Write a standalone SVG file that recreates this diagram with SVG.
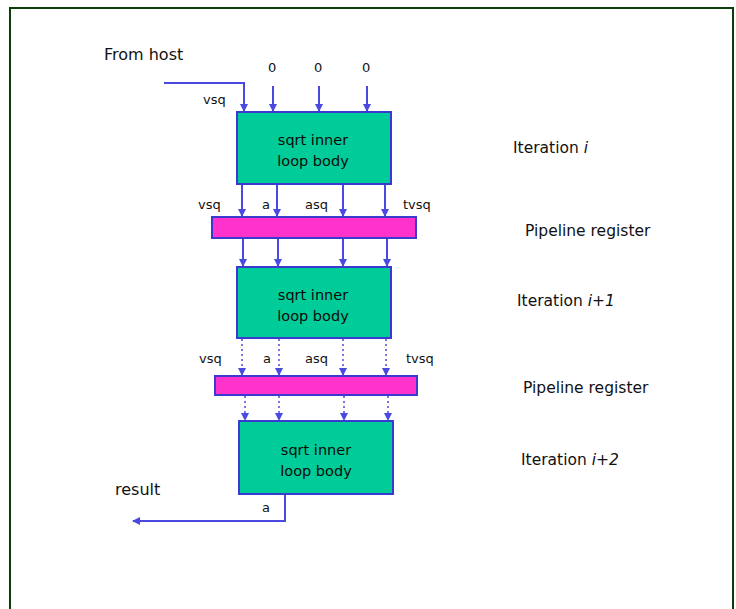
<svg xmlns="http://www.w3.org/2000/svg" width="736" height="609" viewBox="0 0 736 609">
  <style>
    .lbl { font-family: "DejaVu Sans", "Liberation Sans", sans-serif; font-size: 13px; fill: #111; }
    .big { font-size: 16px; }
    .side { font-family: "DejaVu Sans", "Liberation Sans", sans-serif; font-size: 15.5px; fill: #111; }
    .body { fill: #00cc99; stroke: #3a3ad0; stroke-width: 2; }
    .reg { fill: #ff33cc; stroke: #3a3ad0; stroke-width: 2; }
    .wire { fill: none; stroke: #4a4ae0; stroke-width: 2; }
    .dot { fill: none; stroke: #4a4ae0; stroke-width: 1.5; stroke-dasharray: 2 3; }
    .btxt { font-family: "DejaVu Sans", "Liberation Sans", sans-serif; font-size: 14.5px; fill: #0a0a0a; text-anchor: middle; }
  </style>
  <defs>
    <marker id="ah" markerWidth="8" markerHeight="8" refX="7" refY="4" orient="auto" markerUnits="userSpaceOnUse">
      <path d="M0,0 L8,4 L0,8 Z" fill="#4a4ae0"/>
    </marker>
  </defs>

  <rect x="0" y="0" width="736" height="609" fill="#ffffff"/>
  <!-- outer frame -->
  <path d="M10,620 L10,8 L733,8 L733,620" fill="none" stroke="#0d3d0d" stroke-width="2"/>

  <!-- connectors -->
  <g id="connectors">
    <path class="wire" d="M164,83 L244,83 L244,111" marker-end="url(#ah)"/>
    <path class="wire" d="M273,86 L273,111" marker-end="url(#ah)"/>
    <path class="wire" d="M319,86 L319,111" marker-end="url(#ah)"/>
    <path class="wire" d="M367,86 L367,111" marker-end="url(#ah)"/>

    <path class="wire" d="M242,185 L242,216" marker-end="url(#ah)"/>
    <path class="wire" d="M277,185 L277,216" marker-end="url(#ah)"/>
    <path class="wire" d="M343,185 L343,216" marker-end="url(#ah)"/>
    <path class="wire" d="M385,185 L385,216" marker-end="url(#ah)"/>

    <path class="wire" d="M243,239 L243,266" marker-end="url(#ah)"/>
    <path class="wire" d="M278,239 L278,266" marker-end="url(#ah)"/>
    <path class="wire" d="M343,239 L343,266" marker-end="url(#ah)"/>
    <path class="wire" d="M387,239 L387,266" marker-end="url(#ah)"/>

    <path class="dot" d="M242,339 L242,375" marker-end="url(#ah)"/>
    <path class="dot" d="M279,339 L279,375" marker-end="url(#ah)"/>
    <path class="dot" d="M343,339 L343,375" marker-end="url(#ah)"/>
    <path class="dot" d="M386,339 L386,375" marker-end="url(#ah)"/>

    <path class="dot" d="M245,396 L245,420" marker-end="url(#ah)"/>
    <path class="dot" d="M279,396 L279,420" marker-end="url(#ah)"/>
    <path class="dot" d="M344,396 L344,420" marker-end="url(#ah)"/>
    <path class="dot" d="M388,396 L388,420" marker-end="url(#ah)"/>

    <path class="wire" d="M285,495 L285,521 L133,521" marker-end="url(#ah)"/>
  </g>

  <!-- iteration i -->
  <g id="body1">
    <rect class="body" x="237" y="112" width="154" height="72"/>
    <text class="btxt" x="313" y="145">sqrt inner</text>
    <text class="btxt" x="313" y="166">loop body</text>
  </g>
  <g id="reg1">
    <rect class="reg" x="212" y="217" width="204" height="21"/>
  </g>
  <!-- iteration i+1 -->
  <g id="body2">
    <rect class="body" x="237" y="267" width="154" height="71"/>
    <text class="btxt" x="313" y="300">sqrt inner</text>
    <text class="btxt" x="313" y="321">loop body</text>
  </g>
  <g id="reg2">
    <rect class="reg" x="215" y="376" width="202" height="19"/>
  </g>
  <!-- iteration i+2 -->
  <g id="body3">
    <rect class="body" x="239" y="421" width="154" height="73"/>
    <text class="btxt" x="316" y="455">sqrt inner</text>
    <text class="btxt" x="316" y="476">loop body</text>
  </g>

  <!-- signal labels -->
  <g id="labels">
    <text class="lbl big" x="104" y="60">From host</text>
    <text class="lbl" x="268" y="72">0</text>
    <text class="lbl" x="314" y="72">0</text>
    <text class="lbl" x="362" y="72">0</text>
    <text class="lbl" x="203" y="104">vsq</text>

    <text class="lbl" x="198" y="209">vsq</text>
    <text class="lbl" x="262" y="209">a</text>
    <text class="lbl" x="305" y="209">asq</text>
    <text class="lbl" x="403" y="209">tvsq</text>

    <text class="lbl" x="199" y="363">vsq</text>
    <text class="lbl" x="263" y="363">a</text>
    <text class="lbl" x="305" y="363">asq</text>
    <text class="lbl" x="406" y="363">tvsq</text>

    <text class="lbl big" x="115" y="495">result</text>
    <text class="lbl" x="262" y="512">a</text>
  </g>

  <!-- stage captions -->
  <g id="captions">
    <text class="side" x="513" y="153">Iteration <tspan font-style="italic">i</tspan></text>
    <text class="side" x="525" y="236">Pipeline register</text>
    <text class="side" x="517" y="306">Iteration <tspan font-style="italic">i+1</tspan></text>
    <text class="side" x="523" y="393">Pipeline register</text>
    <text class="side" x="521" y="465">Iteration <tspan font-style="italic">i+2</tspan></text>
  </g>
</svg>
